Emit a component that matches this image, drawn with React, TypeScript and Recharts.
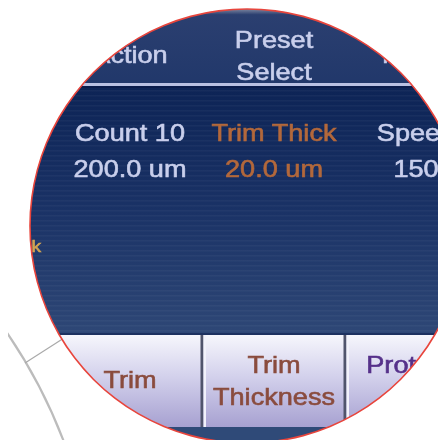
import React from "react";
import { PieChart, Pie, Cell } from "recharts";

// ---- data (text content) ----
const headerLines: string[][] = [["Action"], ["Preset", "Select"], ["Mode"]];
const paramNames: string[] = ["Count 10", "Trim Thick", "Speed"];
const paramValues: string[] = ["200.0 um", "20.0 um", "150"];
const buttonLabels: string[][] = [["Trim"], ["Trim", "Thickness"], ["Protocol"]];
const edgeLabel: string[] = ["Thick"];
const lens = [{ name: "lens", value: 1 }];

// ---- layout / style ----
const W = 446;
const H = 440;
const LCX = 247;
const LCY = 226;
const LR = 217;
const COL_X = [130, 274, 416];
const FONT = "'Liberation Sans', Arial, Helvetica, sans-serif";
const SX = 1.13;

const LIGHT = "#c9cfec";
const ORANGE = "#b3683b";
const BROWN = "#8a4c3e";
const PURPLE = "#55308a";

function T({ x, y, text, fill, size = 24, anchor = "middle" }: { x: number; y: number; text: string; fill: string; size?: number; anchor?: "middle" | "start" | "end" }) {
  return (
    <text
      transform={`translate(${x},${y}) scale(${SX},1)`}
      x={0}
      y={0}
      textAnchor={anchor}
      fontFamily={FONT}
      fontSize={size}
      fill={fill}
      stroke={fill}
      strokeWidth={0.6}
      filter="url(#soft)"
    >
      {text}
    </text>
  );
}

export default function App() {
  return (
    <div style={{ width: W, height: H, background: "#ffffff", marginLeft: -8, marginTop: -8 }}>
      <PieChart width={W} height={H} margin={{ top: 0, right: 0, bottom: 0, left: 0 }}>
        <defs>
          <clipPath id="lensClip">
            <circle cx={LCX} cy={LCY} r={LR} />
          </clipPath>
          <linearGradient id="hdrGrad" x1="0" y1="0" x2="0" y2="1">
            <stop offset="0" stopColor="#8a92a8" />
            <stop offset="0.08" stopColor="#2b3f70" />
            <stop offset="1" stopColor="#20376a" />
          </linearGradient>
          <linearGradient id="bodyGrad" x1="0" y1="0" x2="0" y2="1">
            <stop offset="0" stopColor="#0d2456" />
            <stop offset="0.5" stopColor="#1a3266" />
            <stop offset="1" stopColor="#2e4776" />
          </linearGradient>
          <linearGradient id="btnGrad" x1="0" y1="0" x2="0" y2="1">
            <stop offset="0" stopColor="#f6f6fc" />
            <stop offset="0.45" stopColor="#d3d1ec" />
            <stop offset="1" stopColor="#a7a1d1" />
          </linearGradient>
          <pattern id="scan" width="4" height="5" patternUnits="userSpaceOnUse">
            <rect x="0" y="0" width="4" height="1.5" fill="rgba(255,255,255,0.035)" />
          </pattern>
          <filter id="soft" x="-5%" y="-20%" width="110%" height="140%">
            <feGaussianBlur stdDeviation="0.45" />
          </filter>
        </defs>

        {/* outside decorations */}
        <path d="M -2 320 A 520 520 0 0 1 64 442" fill="none" stroke="#bcbcbc" strokeWidth={2.2} />
        <line x1={25} y1={363} x2={64} y2={338} stroke="#a9a9a9" strokeWidth={1.2} />

        <g clipPath="url(#lensClip)">
          <rect x={0} y={0} width={W} height={84} fill="url(#hdrGrad)" transform="translate(0,8)" />
          <rect x={0} y={0} width={W} height={8} fill="#8a92a8" />
          <rect x={0} y={83} width={W} height={3} fill="#b9c1e3" />
          <rect x={0} y={86} width={W} height={2} fill="#0a1c4c" />
          <rect x={0} y={88} width={W} height={246} fill="url(#bodyGrad)" />
          <rect x={0} y={88} width={W} height={246} fill="url(#scan)" />
          <rect x={0} y={333} width={W} height={2} fill="#1d3160" />
          <rect x={0} y={335} width={W} height={92} fill="url(#btnGrad)" />
          <rect x={0} y={427} width={W} height={20} fill="#2f4a78" />
          {[202, 345].map((dx, i) => (
            <g key={`div-${i}`}>
              <rect x={dx - 1.5} y={335} width={3} height={92} fill="#50546c" />
              <rect x={dx + 1.5} y={335} width={2.5} height={92} fill="#f2f2fb" />
            </g>
          ))}

          {headerLines.map((lines, i) =>
            lines.length === 1 ? (
              <T key={`h-${i}`} x={COL_X[i]} y={63} text={lines[0]} fill={LIGHT} />
            ) : (
              lines.map((ln, j) => <T key={`h-${i}-${j}`} x={COL_X[i]} y={48 + j * 32} text={ln} fill={LIGHT} />)
            )
          )}

          {paramNames.map((n, i) => (
            <T key={`pn-${i}`} x={COL_X[i]} y={141} text={n} fill={i === 1 ? ORANGE : LIGHT} />
          ))}
          {paramValues.map((v, i) => (
            <T key={`pv-${i}`} x={COL_X[i]} y={177} text={v} fill={i === 1 ? ORANGE : LIGHT} />
          ))}

          {edgeLabel.map((t, i) => (
            <T key={`e-${i}`} x={41} y={252} text={t} fill="#d2a452" size={17} anchor="end" />
          ))}

          {buttonLabels.map((lines, i) =>
            lines.length === 1 && i === 0 ? (
              <T key={`b-${i}`} x={COL_X[i]} y={388} text={lines[0]} fill={BROWN} />
            ) : (
              lines.map((ln, j) => (
                <T key={`b-${i}-${j}`} x={COL_X[i]} y={373 + j * 32} text={ln} fill={i === 2 ? PURPLE : BROWN} />
              ))
            )
          )}
        </g>

        <Pie
          data={lens}
          dataKey="value"
          cx={LCX}
          cy={LCY}
          innerRadius={LR - 0.8}
          outerRadius={LR + 0.8}
          startAngle={90}
          endAngle={-270}
          stroke="none"
          isAnimationActive={false}
        >
          {lens.map((d, i) => (
            <Cell key={`c-${i}`} fill="#e8453c" />
          ))}
        </Pie>
      </PieChart>
    </div>
  );
}
